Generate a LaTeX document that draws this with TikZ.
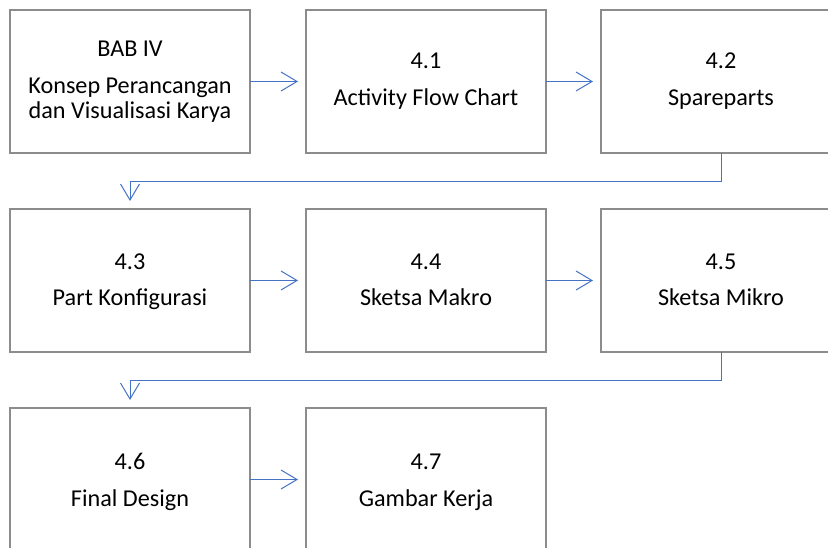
\documentclass[tikz,border=0pt]{standalone}
\usepackage{fontspec}
\setmainfont{Carlito}
\usetikzlibrary{arrows.meta,calc}
\definecolor{boxgray}{HTML}{8C8C8C}
\definecolor{arrowblue}{HTML}{4472C4}
\tikzset{
  box/.style={draw=boxgray, line width=1.3pt, minimum width=240pt, minimum height=143pt, inner sep=0pt, outer sep=0pt},
  txt/.style={anchor=base, inner sep=0pt, font=\fontsize{24.2pt}{28pt}\selectfont},
  flow/.style={draw=arrowblue, line width=1pt, -{Straight Barb[length=16pt,width=19pt]}},
}
\begin{document}
\begin{tikzpicture}[x=1pt,y=-1pt]
\useasboundingbox (0,0) rectangle (828,548);
\clip (0,0) rectangle (828,548);
% row 1
\node[box] (b1) at (130,81.5) {};
\node[box] (b2) at (426,81.5) {};
\node[box] (b3) at (721,81.5) {};
% row 2
\node[box] (b4) at (130,280.5) {};
\node[box] (b5) at (426,280.5) {};
\node[box] (b6) at (721,280.5) {};
% row 3
\node[box] (b7) at (130,479.5) {};
\node[box] (b8) at (426,479.5) {};
% texts
\node[txt] (t1a) at ($(b1.center)+(0,-24.5)$) {BAB IV};
\node[txt] (t1b) at ($(b1.center)+(0,12.5)$) {Konsep Perancangan};
\node[txt] (t1c) at ($(b1.center)+(0,37.5)$) {dan Visualisasi Karya};
\node[txt] (t2a) at ($(b2.center)+(0,-12.5)$) {4.1};
\node[txt] (t2b) at ($(b2.center)+(0,24.5)$) {Activity Flow Chart};
\node[txt] (t3a) at ($(b3.center)+(0,-12.5)$) {4.2};
\node[txt] (t3b) at ($(b3.center)+(0,24.5)$) {Spareparts};
\node[txt] (t4a) at ($(b4.center)+(0,-11)$) {4.3};
\node[txt] (t4b) at ($(b4.center)+(0,25.5)$) {Part Konfigurasi};
\node[txt] (t5a) at ($(b5.center)+(0,-11)$) {4.4};
\node[txt] (t5b) at ($(b5.center)+(0,25.5)$) {Sketsa Makro};
\node[txt] (t6a) at ($(b6.center)+(0,-11)$) {4.5};
\node[txt] (t6b) at ($(b6.center)+(0,25.5)$) {Sketsa Mikro};
\node[txt] (t7a) at ($(b7.center)+(0,-10.5)$) {4.6};
\node[txt] (t7b) at ($(b7.center)+(0,26.5)$) {Final Design};
\node[txt] (t8a) at ($(b8.center)+(0,-10.5)$) {4.7};
\node[txt] (t8b) at ($(b8.center)+(0,26.5)$) {Gambar Kerja};
% connectors
\draw[flow] (b1.east) -- ([xshift=-8pt]b2.west);
\draw[flow] (b2.east) -- ([xshift=-8pt]b3.west);
\draw[flow] (b3.south) -- ++(0,28.5) -| ([yshift=8pt]b4.north);
\draw[flow] (b4.east) -- ([xshift=-8pt]b5.west);
\draw[flow] (b5.east) -- ([xshift=-8pt]b6.west);
\draw[flow] (b6.south) -- ++(0,28.5) -| ([yshift=8pt]b7.north);
\draw[flow] (b7.east) -- ([xshift=-8pt]b8.west);
\end{tikzpicture}
\end{document}
